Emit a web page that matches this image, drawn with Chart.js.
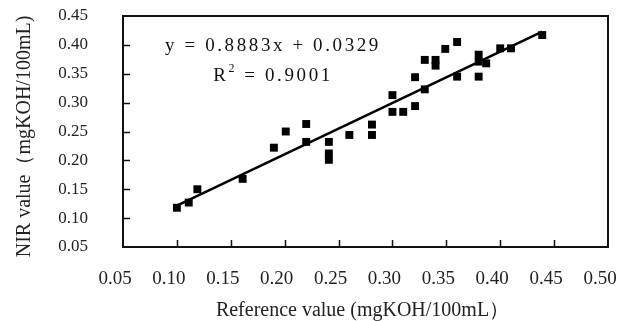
<!DOCTYPE html>
<html>
<head>
<meta charset="utf-8">
<script src="https://cdn.jsdelivr.net/npm/chart.js@4.4.0/dist/chart.umd.min.js"></script>
<style>
  html, body { margin: 0; padding: 0; background: #fff; }
  #wrap { width: 643px; height: 321px; }
</style>
</head>
<body>
<div id="wrap"><canvas id="chart"></canvas></div>
<script>
// measured samples: reference value vs NIR prediction
const refValues = [0.100, 0.111, 0.119, 0.161, 0.190, 0.201, 0.220, 0.220, 0.241, 0.241, 0.241,
  0.260, 0.281, 0.281, 0.300, 0.300, 0.310, 0.321, 0.321, 0.330, 0.330, 0.340, 0.340, 0.349,
  0.360, 0.360, 0.380, 0.380, 0.380, 0.387, 0.400, 0.410, 0.439];
const nirValues = [0.118, 0.127, 0.150, 0.168, 0.222, 0.250, 0.263, 0.232, 0.232, 0.212, 0.201,
  0.244, 0.244, 0.262, 0.313, 0.284, 0.284, 0.344, 0.294, 0.374, 0.323, 0.374, 0.364, 0.393,
  0.405, 0.345, 0.383, 0.371, 0.345, 0.368, 0.394, 0.394, 0.417];
const xTicks = [0.05, 0.10, 0.15, 0.20, 0.25, 0.30, 0.35, 0.40, 0.45, 0.50];
const yTicks = [0.05, 0.10, 0.15, 0.20, 0.25, 0.30, 0.35, 0.40, 0.45];

const slope = 0.8883;
const intercept = 0.0329;
const rSquared = 0.9001;

const xTitle = 'Reference value (mgKOH/100mL）';
const yTitle = 'NIR value（mgKOH/100mL)';

const xMin = Math.min(...refValues);
const xMax = Math.max(...refValues);
const fitLine = [xMin, xMax].map(x => ({ x: x, y: slope * x + intercept }));

const serif = "'Liberation Serif', 'Times New Roman', serif";

// box around the plot
const framePlugin = {
  id: 'frame',
  afterDraw(chart) {
    const { ctx, chartArea: a } = chart;
    ctx.save();
    ctx.strokeStyle = '#111';
    ctx.lineWidth = 2;
    ctx.strokeRect(a.left, a.top, a.right - a.left, a.bottom - a.top);
    ctx.restore();
  }
};

// short tick marks pointing into the plot
const innerTicks = {
  id: 'innerTicks',
  afterDraw(chart) {
    const { ctx, chartArea: a, scales } = chart;
    ctx.save();
    ctx.strokeStyle = '#111';
    ctx.lineWidth = 1.5;
    ctx.beginPath();
    scales.x.ticks.forEach((t, i) => {
      if (i === 0 || i === scales.x.ticks.length - 1) return;
      const px = Math.round(scales.x.getPixelForValue(t.value)) + 0.5;
      ctx.moveTo(px, a.bottom);
      ctx.lineTo(px, a.bottom - 7);
    });
    scales.y.ticks.forEach((t, i) => {
      if (i === 0 || i === scales.y.ticks.length - 1) return;
      const py = Math.round(scales.y.getPixelForValue(t.value)) + 0.5;
      ctx.moveTo(a.left, py);
      ctx.lineTo(a.left + 7, py);
    });
    ctx.stroke();
    ctx.restore();
  }
};

// axis titles
const axisTitles = {
  id: 'axisTitles',
  afterDraw(chart) {
    const { ctx, chartArea: a } = chart;
    ctx.save();
    ctx.fillStyle = '#222';
    ctx.textAlign = 'center';
    ctx.textBaseline = 'alphabetic';
    ctx.font = '20px ' + serif;
    ctx.fillText(xTitle, (a.left + a.right) / 2 - 3, chart.height - 5);
    ctx.textBaseline = 'middle';
    ctx.translate(25, (a.top + a.bottom) / 2 + 5);
    ctx.rotate(-Math.PI / 2);
    ctx.font = '20px ' + serif;
    ctx.fillText(yTitle, 0, 0);
    ctx.restore();
  }
};

// regression equation text
const equationPlugin = {
  id: 'equation',
  afterDatasetsDraw(chart) {
    const { ctx, chartArea: a } = chart;
    const cx = a.left + 150;
    const big = '19px ' + serif;
    const small = '12px ' + serif;
    ctx.save();
    ctx.fillStyle = '#111';
    ctx.font = big;
    ctx.letterSpacing = '2.6px';
    ctx.textBaseline = 'alphabetic';
    ctx.textAlign = 'center';
    ctx.fillText('y = ' + slope.toFixed(4) + 'x + ' + intercept.toFixed(4), cx, a.top + 35);

    const part1 = 'R';
    const part2 = ' = ' + rSquared.toFixed(4);
    ctx.textAlign = 'left';
    const w1 = ctx.measureText(part1).width;
    ctx.font = small;
    const wSup = ctx.measureText('2').width;
    ctx.font = big;
    const w2 = ctx.measureText(part2).width;
    let x = cx - (w1 + wSup + w2) / 2;
    const base = a.top + 65;
    ctx.fillText(part1, x, base);
    x += w1;
    ctx.font = small;
    ctx.fillText('2', x, base - 9);
    x += wSup;
    ctx.font = big;
    ctx.fillText(part2, x, base);
    ctx.restore();
  }
};

new Chart(document.getElementById('chart'), {
  type: 'scatter',
  data: {
    datasets: [{
      label: 'samples',
      data: refValues.map((x, i) => ({ x: x, y: nirValues[i] })),
      pointStyle: 'rect',
      pointRadius: 5.6,
      pointBackgroundColor: '#000',
      pointBorderWidth: 0,
      showLine: false
    }, {
      label: 'fit',
      data: fitLine,
      showLine: true,
      borderColor: '#000',
      borderWidth: 2.5,
      pointRadius: 0
    }]
  },
  options: {
    responsive: true,
    maintainAspectRatio: false,
    animation: false,
    layout: { padding: { top: 16, right: 35, left: 0, bottom: 0 } },
    plugins: { legend: { display: false }, tooltip: { enabled: false } },
    scales: {
      x: {
        type: 'linear',
        min: 0.05,
        max: 0.50,
        afterBuildTicks: s => { s.ticks = xTicks.map(v => ({ value: v })); },
        afterFit: s => {
          s.height = 74;
          s.paddingLeft = 0;
          s.paddingRight = 0;
        },
        grid: { display: false, drawTicks: false },
        border: { display: false },
        ticks: {
          padding: 21,
          labelOffset: -8,
          color: '#222',
          font: { family: serif, size: 19 },
          callback: v => v.toFixed(2)
        }
      },
      y: {
        type: 'linear',
        min: 0.05,
        max: 0.45,
        afterBuildTicks: s => { s.ticks = yTicks.map(v => ({ value: v })); },
        afterFit: s => {
          s.width = 123;
          s.paddingTop = 0;
          s.paddingBottom = 0;
        },
        grid: { display: false, drawTicks: false },
        border: { display: false },
        ticks: {
          padding: 35,
          color: '#222',
          font: { family: serif, size: 17 },
          callback: v => v.toFixed(2)
        }
      }
    }
  },
  plugins: [framePlugin, innerTicks, axisTitles, equationPlugin]
});
</script>
</body>
</html>
